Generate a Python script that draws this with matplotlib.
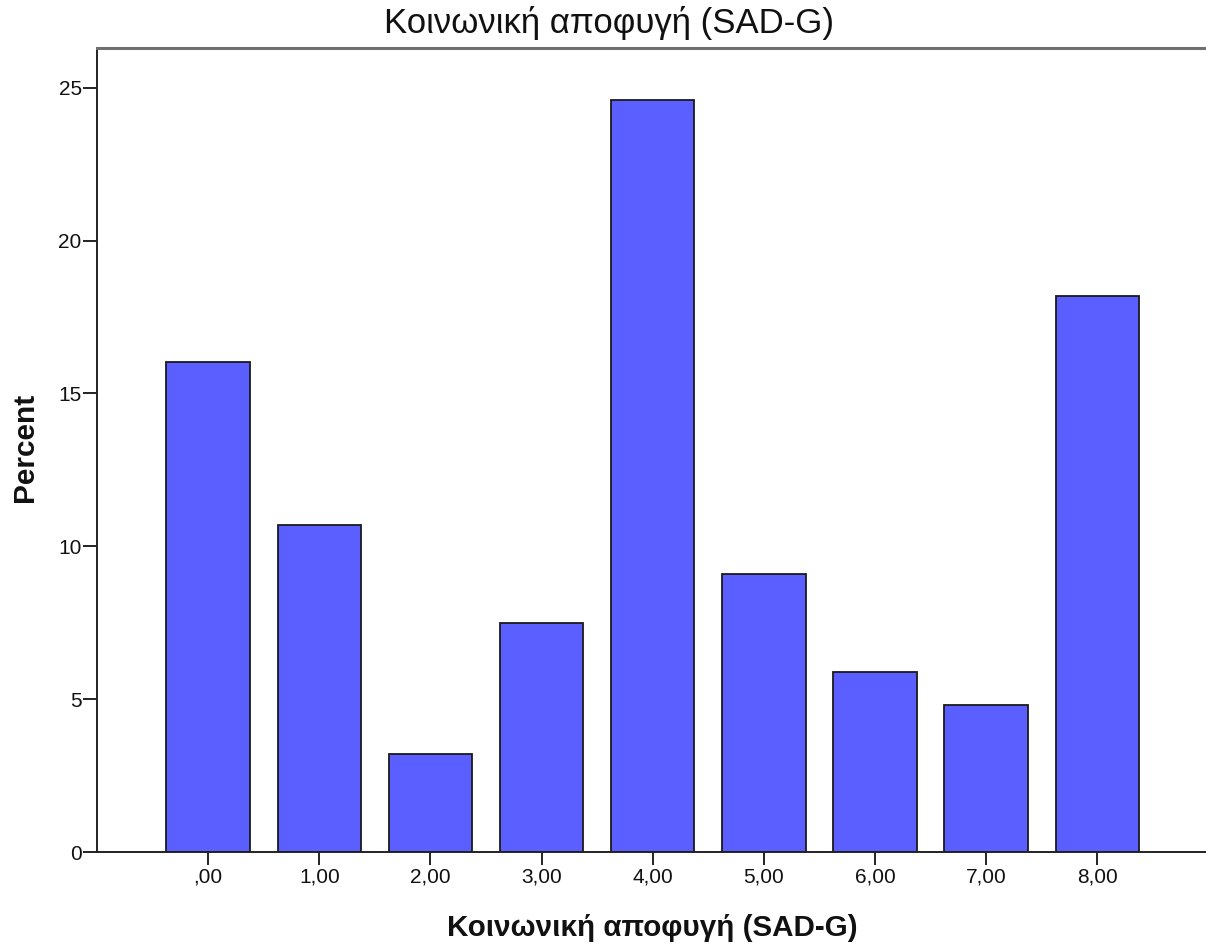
import matplotlib
matplotlib.use("Agg")
import matplotlib.pyplot as plt

categories = [",00", "1,00", "2,00", "3,00", "4,00", "5,00", "6,00", "7,00", "8,00"]
percent = [16.03, 10.70, 3.21, 7.49, 24.6, 9.10, 5.89, 4.81, 18.19]
y_ticks = [0, 5, 10, 15, 20, 25]

plt.rcParams['font.family'] = ['Liberation Sans', 'DejaVu Sans']

W, H = 1206, 947
fig = plt.figure(figsize=(W / 100, H / 100), dpi=100)
ax = fig.add_axes([97 / W, (H - 852) / H, (W - 97) / W + 0.002, (852 - 48) / H])

x = list(range(len(categories)))
ax.bar(x, percent, width=0.75, color='#5b5fff', edgecolor='#1a1a1a', linewidth=1.3, zorder=2)

ax.set_xlim(-1.0, 9.0)
ax.set_ylim(0, 26.3)
ax.set_xticks(x)
ax.set_xticklabels(categories, fontsize=15, color='#111111')
ax.set_yticks(y_ticks)
ax.set_yticklabels([str(v) for v in y_ticks], fontsize=15, color='#111111')

ax.spines['right'].set_visible(False)
for side in ['left', 'bottom']:
    ax.spines[side].set_color('#222222')
    ax.spines[side].set_linewidth(1.4)
ax.spines['top'].set_color('#707070')
ax.spines['top'].set_linewidth(2.2)

ax.tick_params(axis='x', direction='out', length=9.5, width=1.4, color='#222222', pad=2)
ax.tick_params(axis='y', direction='out', length=10, width=1.4, color='#222222', pad=1)

fig.text(609 / W, 1 - 33 / H, 'Κοινωνική αποφυγή (SAD-G)', fontsize=25,
         ha='center', va='baseline', color='#111111')
fig.text(652 / W, 1 - 936 / H, 'Κοινωνική αποφυγή (SAD-G)', fontsize=21.3,
         fontweight='bold', ha='center', va='baseline', color='#111111')
fig.text(25 / W, 1 - 447 / H, 'Percent', fontsize=21.5, fontweight='bold',
         rotation=90, ha='center', va='center', color='#111111')

fig.savefig('out.png', dpi=100)
